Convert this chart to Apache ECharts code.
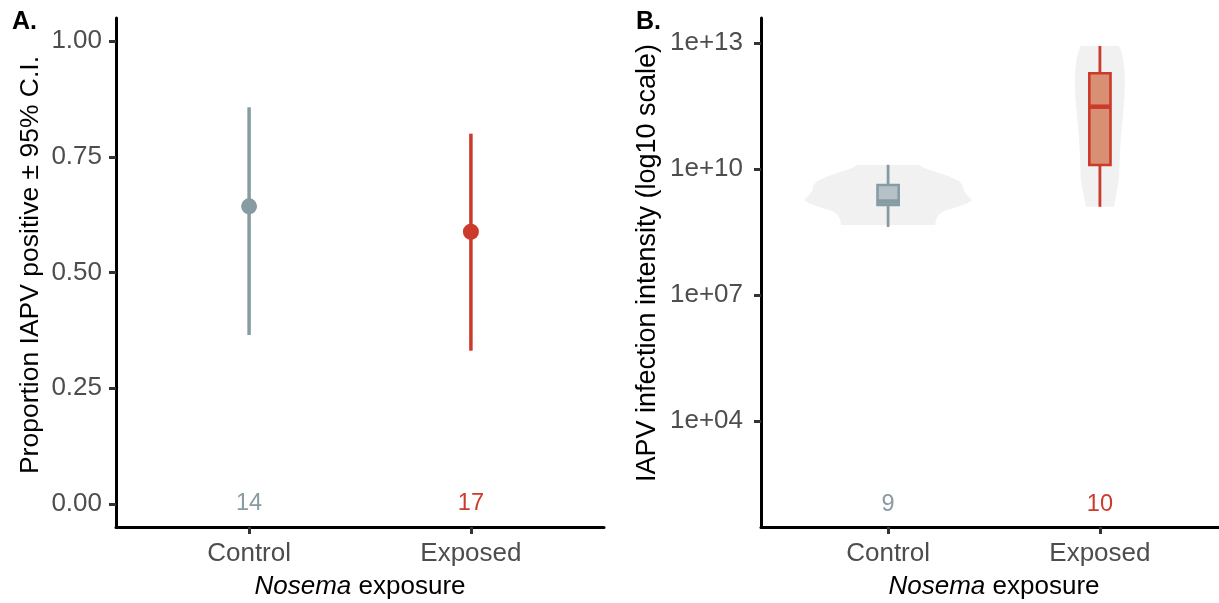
<!DOCTYPE html>
<html><head><meta charset="utf-8">
<script src="https://cdn.jsdelivr.net/npm/echarts@6/dist/echarts.min.js"></script>
<style>html,body{margin:0;padding:0;background:#fff}#c{width:1219px;height:603px}</style>
</head><body><div id="c"></div>
<script>
// ---------- data ----------
const categories = ['Control', 'Exposed'];
// Panel A: proportion IAPV positive with 95% CI
const propPositive = [0.643, 0.588];
const ciLower = [0.365, 0.331];
const ciUpper = [0.857, 0.800];
const nTested = [14, 17];
const yTicksA = [0, 0.25, 0.5, 0.75, 1];
// Panel B: IAPV intensity (log10 units)
const nPositive = [9, 10];
const boxMin = [8.62, 9.10];
const boxQ1 = [9.143, 10.095];
const boxMedian = [9.226, 11.483];
const boxQ3 = [9.619, 12.279];
const boxMax = [10.10, 12.93];
const violinControlLog = [10.095, 10.024, 9.929, 9.833, 9.714, 9.595, 9.476, 9.357, 9.262, 9.190, 9.095, 9.000, 8.905, 8.786, 8.667];
const violinControlHalf = [0.146, 0.170, 0.226, 0.283, 0.335, 0.354, 0.358, 0.377, 0.396, 0.377, 0.325, 0.264, 0.236, 0.226, 0.222];
const violinExposedLog = [12.93, 12.80, 12.595, 12.35, 12.119, 11.72, 11.245, 10.77, 10.293, 9.738, 9.34, 9.10];
const violinExposedHalf = [0.090, 0.101, 0.111, 0.116, 0.118, 0.116, 0.108, 0.099, 0.094, 0.090, 0.075, 0.066];
const yTicksB = [4, 7, 10, 13];
const countLabelLog = 2;

// ---------- styles ----------
const FONT = '"Liberation Sans", Arial, Helvetica, sans-serif';
const lineCol = ['#879ba2', '#cb3a2a'];
const boxFill = ['#b5c1c7', '#d98f74'];
const violinFill = '#f1f1f1';
const violinLog = [violinControlLog, violinExposedLog];
const violinHalf = [violinControlHalf, violinExposedHalf];

function xAxisCfg(gi) {
  return {
    type: 'value', gridIndex: gi, min: 0.4, max: 2.6,
    axisLine: { show: true, onZero: false, lineStyle: { color: '#000', width: 3 } },
    axisTick: { show: true, customValues: [1, 2], length: 7, lineStyle: { color: '#333', width: 3 } },
    axisLabel: { customValues: [1, 2], formatter: v => categories[Math.round(v) - 1], fontSize: 26, color: '#4d4d4d', margin: 14, fontFamily: FONT },
    splitLine: { show: false },
    name: '{i|Nosema} exposure', nameLocation: 'middle', nameGap: 47,
    nameTextStyle: { fontSize: 26, color: '#000', fontFamily: FONT, lineHeight: 26,
      rich: { i: { fontStyle: 'italic', fontSize: 26, color: '#000', fontFamily: FONT, lineHeight: 26 } } }
  };
}
function yAxisCfg(gi, min, max, ticks, fmt, margin) {
  return {
    type: 'value', gridIndex: gi, min: min, max: max,
    axisLine: { show: true, onZero: false, lineStyle: { color: '#000', width: 3 } },
    axisTick: { show: true, customValues: ticks, length: 7, lineStyle: { color: '#333', width: 3 } },
    axisLabel: { customValues: ticks, formatter: fmt, fontSize: 26, color: '#4d4d4d', margin: margin, fontFamily: FONT },
    splitLine: { show: false }
  };
}
function countText(params, api) {
  const p = api.coord([api.value(0), api.value(1)]);
  return { type: 'text', style: { text: String(api.value(2)), x: p[0], y: p[1], fill: lineCol[params.dataIndex],
    fontSize: 23.5, fontFamily: FONT, align: 'center', verticalAlign: 'middle' } };
}

const chart = echarts.init(document.getElementById('c'), null, { renderer: 'canvas' });
chart.setOption({
  backgroundColor: '#fff',
  animation: false,
  grid: [
    { left: 116, top: 18, width: 488, height: 509, outerBoundsMode: 'none', containLabel: false },
    { left: 761, top: 18, width: 466, height: 509, outerBoundsMode: 'none', containLabel: false }
  ],
  xAxis: [xAxisCfg(0), xAxisCfg(1)],
  yAxis: [
    yAxisCfg(0, -0.05, 1.05, yTicksA, v => v.toFixed(2), 14),
    yAxisCfg(1, 1.476, 13.595, yTicksB, v => '1e+' + String(Math.round(v)).padStart(2, '0'), 18)
  ],
  graphic: [
    { type: 'text', x: 12, y: 22, style: { text: 'A.', font: 'bold 25px ' + FONT, fill: '#000', verticalAlign: 'middle' } },
    { type: 'text', x: 636, y: 22, style: { text: 'B.', font: 'bold 25px ' + FONT, fill: '#000', verticalAlign: 'middle' } },
    { type: 'text', x: 31, y: 265, rotation: Math.PI / 2,
      style: { text: 'Proportion IAPV positive ± 95% C.I.', font: '26.5px ' + FONT, fill: '#000', align: 'center', verticalAlign: 'middle' } },
    { type: 'text', x: 648, y: 263, rotation: Math.PI / 2,
      style: { text: 'IAPV infection intensity (log10 scale)', font: '27px ' + FONT, fill: '#000', align: 'center', verticalAlign: 'middle' } }
  ],
  series: [
    // Panel A: CI bars
    {
      type: 'custom', xAxisIndex: 0, yAxisIndex: 0,
      data: categories.map((c, i) => [i + 1, ciLower[i], ciUpper[i]]),
      renderItem: (params, api) => {
        const i = params.dataIndex;
        const p1 = api.coord([api.value(0), api.value(1)]);
        const p2 = api.coord([api.value(0), api.value(2)]);
        return { type: 'line', shape: { x1: p1[0], y1: p1[1], x2: p2[0], y2: p2[1] },
          style: { stroke: lineCol[i], lineWidth: 3.5 } };
      }
    },
    // Panel A: points
    {
      type: 'scatter', xAxisIndex: 0, yAxisIndex: 0, symbolSize: 16,
      data: categories.map((c, i) => ({ value: [i + 1, propPositive[i]], itemStyle: { color: lineCol[i], opacity: 1 } }))
    },
    // Panel A: sample sizes
    {
      type: 'custom', xAxisIndex: 0, yAxisIndex: 0,
      data: categories.map((c, i) => [i + 1, 0, nTested[i]]),
      renderItem: countText
    },
    // Panel B: violins
    {
      type: 'custom', xAxisIndex: 1, yAxisIndex: 1,
      data: categories.map((c, i) => [i + 1, violinLog[i][0]]),
      renderItem: (params, api) => {
        const i = params.dataIndex;
        const x = api.value(0);
        const ys = violinLog[i], ws = violinHalf[i];
        const pts = [];
        for (let k = 0; k < ys.length; k++) pts.push(api.coord([x - ws[k], ys[k]]));
        for (let k = ys.length - 1; k >= 0; k--) pts.push(api.coord([x + ws[k], ys[k]]));
        return { type: 'polygon', shape: { points: pts }, style: { fill: violinFill, stroke: null } };
      }
    },
    // Panel B: boxplots
    {
      type: 'custom', xAxisIndex: 1, yAxisIndex: 1,
      data: categories.map((c, i) => [i + 1, boxMin[i], boxQ1[i], boxMedian[i], boxQ3[i], boxMax[i]]),
      renderItem: (params, api) => {
        const i = params.dataIndex;
        const x = api.value(0);
        const hw = 0.05;
        const wTop = api.coord([x, api.value(5)]);
        const wBot = api.coord([x, api.value(1)]);
        const tl = api.coord([x - hw, api.value(4)]);
        const br = api.coord([x + hw, api.value(2)]);
        const ml = api.coord([x - hw, api.value(3)]);
        const mr = api.coord([x + hw, api.value(3)]);
        return { type: 'group', children: [
          { type: 'line', shape: { x1: wTop[0], y1: wTop[1], x2: wBot[0], y2: wBot[1] }, style: { stroke: lineCol[i], lineWidth: 2.8 } },
          { type: 'rect', shape: { x: tl[0], y: tl[1], width: br[0] - tl[0], height: br[1] - tl[1] },
            style: { fill: boxFill[i], stroke: lineCol[i], lineWidth: 2.6 } },
          { type: 'line', shape: { x1: ml[0], y1: ml[1], x2: mr[0], y2: mr[1] }, style: { stroke: lineCol[i], lineWidth: 4.5 } }
        ] };
      }
    },
    // Panel B: sample sizes
    {
      type: 'custom', xAxisIndex: 1, yAxisIndex: 1,
      data: categories.map((c, i) => [i + 1, countLabelLog, nPositive[i]]),
      renderItem: countText
    }
  ]
});
</script></body></html>
